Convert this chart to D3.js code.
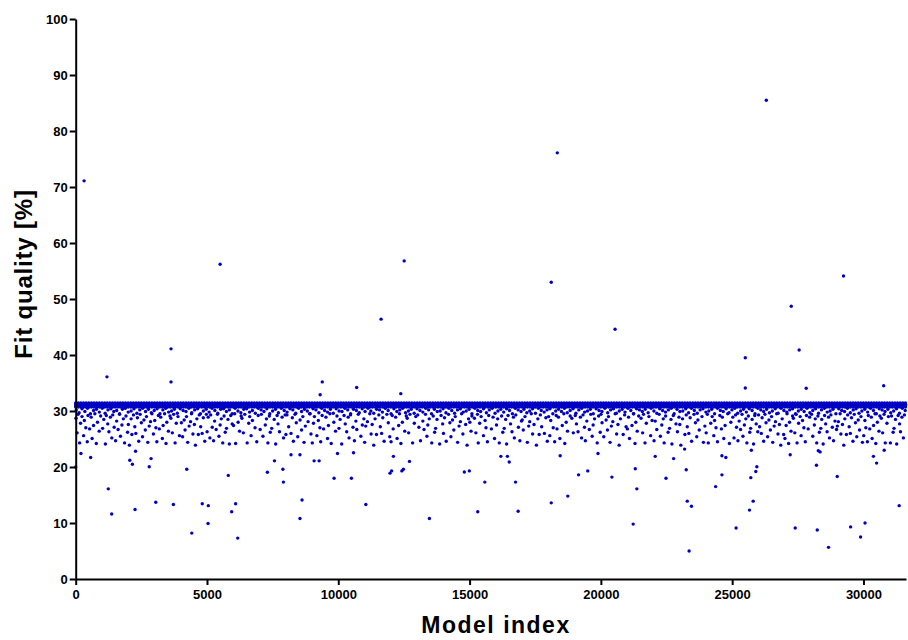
<!DOCTYPE html>
<html><head><meta charset="utf-8">
<script src="https://cdn.jsdelivr.net/npm/d3@7/dist/d3.min.js"></script>
<style>
html,body{margin:0;padding:0;background:#fff;}
svg{display:block;}
.axis text{font-family:"Liberation Sans",Arial,sans-serif;font-weight:bold;font-size:13px;fill:#000;}
.axis path,.axis line{stroke:#000;stroke-width:2;}
</style>
</head><body>
<svg id="chart" width="908" height="640"></svg>
<script>
// ---- data (Model index, Fit quality %) ----
const xTicks = [0, 5000, 10000, 15000, 20000, 25000, 30000];
const yTicks = [0, 10, 20, 30, 40, 50, 60, 70, 80, 90, 100];

// dense saturated band near 31 %
const bandIndex = [0,100,200,300,400,500,600,700,800,900,1000,1100,1200,1300,1400,1500,1600,1700,1800,1900,2000,2100,2200,2300,2400,2500,2600,2700,2800,2900,3000,3100,3200,3300,3400,3500,3600,3700,3800,3900,4000,4100,4200,4300,4400,4500,4600,4700,4800,4900,5000,5100,5200,5300,5400,5500,5600,5700,5800,5900,6000,6100,6200,6300,6400,6500,6600,6700,6800,6900,7000,7100,7200,7300,7400,7500,7600,7700,7800,7900,8000,8100,8200,8300,8400,8500,8600,8700,8800,8900,9000,9100,9200,9300,9400,9500,9600,9700,9800,9900,10000,10100,10200,10300,10400,10500,10600,10700,10800,10900,11000,11100,11200,11300,11400,11500,11600,11700,11800,11900,12000,12100,12200,12300,12400,12500,12600,12700,12800,12900,13000,13100,13200,13300,13400,13500,13600,13700,13800,13900,14000,14100,14200,14300,14400,14500,14600,14700,14800,14900,15000,15100,15200,15300,15400,15500,15600,15700,15800,15900,16000,16100,16200,16300,16400,16500,16600,16700,16800,16900,17000,17100,17200,17300,17400,17500,17600,17700,17800,17900,18000,18100,18200,18300,18400,18500,18600,18700,18800,18900,19000,19100,19200,19300,19400,19500,19600,19700,19800,19900,20000,20100,20200,20300,20400,20500,20600,20700,20800,20900,21000,21100,21200,21300,21400,21500,21600,21700,21800,21900,22000,22100,22200,22300,22400,22500,22600,22700,22800,22900,23000,23100,23200,23300,23400,23500,23600,23700,23800,23900,24000,24100,24200,24300,24400,24500,24600,24700,24800,24900,25000,25100,25200,25300,25400,25500,25600,25700,25800,25900,26000,26100,26200,26300,26400,26500,26600,26700,26800,26900,27000,27100,27200,27300,27400,27500,27600,27700,27800,27900,28000,28100,28200,28300,28400,28500,28600,28700,28800,28900,29000,29100,29200,29300,29400,29500,29600,29700,29800,29900,30000,30100,30200,30300,30400,30500,30600,30700,30800,30900,31000,31100,31200,31300,31400,31500,31600];
const bandLevels = [31.45, 31.2, 30.95, 30.7];

// fringe just under the band
const fringe = [[20,30.2],[130,29.7],[240,30.4],[350,29.9],[450,30.5],[560,29.5],[680,30.1],[790,30.3],[900,29.8],[1010,30.5],[1120,29.6],[1230,30.2],[1340,30.4],[1450,29.9],[1560,30.1],[1670,29.5],[1780,30.3],[1890,30.5],[2000,29.8],[2110,30.0],[2220,30.4],[2330,29.6],[2440,30.2],[2550,30.5],[2660,29.9],[2770,30.3],[2880,29.7],[2990,30.1],[3100,30.4],[3210,29.5],[3320,30.2],[3430,30.5],[3540,29.8],[3650,30.0],[3760,30.3],[3870,29.6],[3980,30.4],[4090,30.1],[4200,29.9],[4310,30.5],[4420,29.7],[4530,30.2],[4640,30.4],[4750,29.5],[4860,30.0],[4970,30.3],[5080,29.8],[5190,30.5],[5300,30.1],[5410,29.6],[5520,30.3],[5630,30.4],[5740,29.9],[5850,30.2],[5960,29.5],[6070,30.5],[6180,30.0],[6290,29.7],[6400,30.3],[6510,30.4],[6620,29.8],[6730,30.1],[6840,29.6],[6950,30.5],[7060,30.2],[7170,29.9],[7280,30.4],[7390,29.5],[7500,30.0],[7610,30.3],[7720,29.7],[7830,30.5],[7940,30.1],[8050,29.8],[8160,30.4],[8270,30.2],[8380,29.6],[8490,30.5],[8600,29.9],[8710,30.3],[8820,30.0],[8930,29.5],[9040,30.4],[9150,30.2],[9260,29.7],[9370,30.5],[9480,30.1],[9590,29.8],[9700,30.3],[9810,29.6],[9920,30.4],[10030,30.0],[10140,29.9],[10250,30.5],[10360,30.2],[10470,29.5],[10580,30.3],[10690,30.1],[10800,29.7],[10910,30.4],[11020,29.9],[11130,30.5],[11240,30.0],[11350,29.6],[11460,30.3],[11570,30.2],[11680,29.8],[11790,30.5],[11900,30.1],[12010,29.5],[12120,30.4],[12230,29.9],[12340,30.2],[12450,30.5],[12560,29.7],[12670,30.0],[12780,30.3],[12890,29.6],[13000,30.4],[13110,30.1],[13220,29.8],[13330,30.5],[13440,30.2],[13550,29.5],[13660,30.3],[13770,29.9],[13880,30.0],[13990,30.4],[14100,29.7],[14210,30.5],[14320,30.1],[14430,29.6],[14540,30.2],[14650,30.4],[14760,29.8],[14870,30.0],[14980,30.3],[15090,29.5],[15200,30.5],[15310,30.1],[15420,29.9],[15530,30.4],[15640,29.7],[15750,30.2],[15860,30.5],[15970,29.6],[16080,30.0],[16190,30.3],[16300,29.8],[16410,30.4],[16520,30.1],[16630,29.5],[16740,30.5],[16850,30.2],[16960,29.9],[17070,30.3],[17180,29.7],[17290,30.0],[17400,30.4],[17510,29.6],[17620,30.5],[17730,30.1],[17840,29.8],[17950,30.2],[18060,30.4],[18170,29.5],[18280,30.0],[18390,30.3],[18500,29.9],[18610,30.5],[18720,29.7],[18830,30.1],[18940,30.4],[19050,29.6],[19160,30.2],[19270,30.5],[19380,29.8],[19490,30.0],[19600,30.3],[19710,29.5],[19820,30.4],[19930,30.1],[20040,29.9],[20150,30.5],[20260,29.7],[20370,30.2],[20480,30.4],[20590,29.6],[20700,30.0],[20810,30.3],[20920,29.8],[21030,30.5],[21140,30.1],[21250,29.5],[21360,30.4],[21470,30.2],[21580,29.9],[21690,30.3],[21800,29.7],[21910,30.5],[22020,30.0],[22130,29.6],[22240,30.4],[22350,30.1],[22460,29.8],[22570,30.2],[22680,30.5],[22790,29.5],[22900,30.3],[23010,29.9],[23120,30.0],[23230,30.4],[23340,29.7],[23450,30.5],[23560,30.1],[23670,29.6],[23780,30.2],[23890,30.4],[24000,29.8],[24110,30.0],[24220,30.3],[24330,29.5],[24440,30.5],[24550,30.1],[24660,29.9],[24770,30.4],[24880,29.7],[24990,30.2],[25100,30.5],[25210,29.6],[25320,30.0],[25430,30.3],[25540,29.8],[25650,30.4],[25760,30.1],[25870,29.5],[25980,30.5],[26090,30.2],[26200,29.9],[26310,30.3],[26420,29.7],[26530,30.0],[26640,30.4],[26750,29.6],[26860,30.5],[26970,30.1],[27080,29.8],[27190,30.2],[27300,30.4],[27410,29.5],[27520,30.0],[27630,30.3],[27740,29.9],[27850,30.5],[27960,29.7],[28070,30.1],[28180,30.4],[28290,29.6],[28400,30.2],[28510,30.5],[28620,29.8],[28730,30.0],[28840,30.3],[28950,29.5],[29060,30.4],[29170,30.1],[29280,29.9],[29390,30.5],[29500,29.7],[29610,30.2],[29720,30.4],[29830,29.6],[29940,30.0],[30050,30.3],[30160,29.8],[30270,30.5],[30380,30.1],[30490,29.5],[30600,30.4],[30710,30.2],[30820,29.9],[30930,30.3],[31040,29.7],[31150,30.0],[31260,30.4],[31370,29.6],[31480,30.5],[31590,30.1]];

// main scattered body (about 24-29.5 %)
const body = [
[10,28.7],[55,26.1],[90,29.4],[150,24.3],[185,27.8],[240,29.0],[300,25.6],[330,28.3],[385,27.0],[440,24.5],[470,29.2],[530,26.8],[590,28.9],[625,25.1],[680,27.4],[730,29.5],[785,24.2],[830,28.0],[895,26.4],[950,29.1],
[1025,26.9],[1070,28.5],[1130,24.1],[1165,29.2],[1220,27.7],[1265,26.3],[1320,28.9],[1375,25.2],[1410,29.3],[1465,27.1],[1520,24.7],[1560,28.2],[1615,26.7],[1670,29.4],[1705,25.5],[1760,27.5],[1815,28.6],[1860,24.3],[1915,29.1],[1975,26.2],
[2005,27.6],[2045,23.9],[2110,28.6],[2140,25.8],[2200,29.3],[2250,27.2],[2290,26.0],[2350,28.8],[2400,24.6],[2455,29.4],[2500,27.9],[2545,25.4],[2600,28.4],[2650,26.6],[2695,29.0],[2745,24.4],[2800,27.3],[2850,28.1],[2905,29.5],[2960,25.9],
[3010,28.3],[3055,27.0],[3090,24.5],[3150,29.2],[3185,26.8],[3240,28.9],[3300,25.1],[3330,27.4],[3385,29.5],[3440,24.2],[3470,28.0],[3530,26.4],[3590,29.1],[3625,28.7],[3680,26.1],[3730,29.4],[3785,24.3],[3830,27.8],[3895,29.0],[3950,25.6],
[4025,27.9],[4070,25.4],[4130,28.4],[4165,26.6],[4220,29.0],[4265,24.4],[4320,27.3],[4375,28.1],[4410,29.5],[4465,25.9],[4520,27.6],[4560,23.9],[4615,28.6],[4670,25.8],[4705,29.3],[4760,27.2],[4815,26.0],[4860,28.8],[4915,24.6],[4975,29.4],
[5005,26.3],[5045,28.9],[5110,25.2],[5140,29.3],[5200,27.1],[5250,24.7],[5290,28.2],[5350,26.7],[5400,29.4],[5455,25.5],[5500,27.5],[5545,28.6],[5600,24.3],[5650,29.1],[5695,26.2],[5745,26.9],[5800,28.5],[5850,24.1],[5905,29.2],[5960,27.7],
[6010,27.4],[6055,29.5],[6090,24.2],[6185,28.0],[6240,26.4],[6300,29.1],[6330,28.7],[6385,26.1],[6440,29.4],[6530,24.3],[6590,27.8],[6625,29.0],[6680,25.6],[6730,28.3],[6830,27.0],[6895,24.5],[6950,29.2],
[7025,26.7],[7070,29.4],[7130,25.5],[7220,27.5],[7265,28.6],[7320,24.3],[7375,29.1],[7410,26.2],[7465,26.9],[7560,28.5],[7615,24.1],[7670,29.2],[7705,27.7],[7760,26.3],[7860,28.9],[7915,25.2],[7975,29.3],
[8005,25.8],[8045,29.3],[8110,27.2],[8200,26.0],[8250,28.8],[8290,24.6],[8350,29.4],[8400,27.9],[8455,25.4],[8545,28.4],[8600,26.6],[8650,29.0],[8695,24.4],[8745,27.3],[8850,28.1],[8905,29.5],[8960,25.9],
[9010,24.3],[9055,27.8],[9090,29.0],[9185,25.6],[9240,28.3],[9300,27.0],[9330,24.5],[9385,29.2],[9440,26.8],[9530,28.9],[9590,25.1],[9625,27.4],[9680,29.5],[9730,24.2],[9830,28.0],[9895,26.4],[9950,29.1],
[10025,26.9],[10070,28.5],[10130,24.1],[10220,29.2],[10265,27.7],[10320,26.3],[10375,28.9],[10410,25.2],[10465,29.3],[10560,27.1],[10615,24.7],[10670,28.2],[10705,26.7],[10760,29.4],[10860,25.5],[10915,27.5],[10975,28.6],
[11005,24.4],[11045,27.3],[11110,28.1],[11200,29.5],[11250,25.9],[11290,27.6],[11350,23.9],[11400,28.6],[11455,25.8],[11545,29.3],[11600,27.2],[11650,26.0],[11695,28.8],[11745,24.6],[11850,29.4],[11905,27.9],[11960,25.4],
[12010,24.5],[12055,29.2],[12090,26.8],[12185,28.9],[12240,25.1],[12300,27.4],[12330,29.5],[12385,24.2],[12440,28.0],[12530,26.4],[12590,29.1],[12625,28.7],[12680,26.1],[12730,29.4],[12830,24.3],[12895,27.8],[12950,29.0],
[13025,29.3],[13070,27.1],[13130,24.7],[13220,28.2],[13265,26.7],[13320,29.4],[13375,25.5],[13410,27.5],[13465,28.6],[13560,24.3],[13615,29.1],[13670,26.2],[13705,26.9],[13760,28.5],[13860,24.1],[13915,29.2],[13975,27.7],
[14005,26.0],[14045,28.8],[14110,24.6],[14200,29.4],[14250,27.9],[14290,25.4],[14350,28.4],[14400,26.6],[14455,29.0],[14545,24.4],[14600,27.3],[14650,28.1],[14695,29.5],[14745,25.9],[14850,27.6],[14905,23.9],[14960,28.6],
[15010,28.0],[15055,26.4],[15090,29.1],[15185,28.7],[15240,26.1],[15300,29.4],[15330,24.3],[15385,27.8],[15440,29.0],[15530,25.6],[15590,28.3],[15625,27.0],[15680,24.5],[15730,29.2],[15830,26.8],[15895,28.9],[15950,25.1],
[16025,27.5],[16070,28.6],[16130,24.3],[16220,29.1],[16265,26.2],[16320,26.9],[16375,28.5],[16410,24.1],[16465,29.2],[16560,27.7],[16615,26.3],[16670,28.9],[16705,25.2],[16760,29.3],[16860,27.1],[16915,24.7],[16975,28.2],
[17005,28.4],[17045,26.6],[17110,29.0],[17200,24.4],[17250,27.3],[17290,28.1],[17350,29.5],[17400,25.9],[17455,27.6],[17545,23.9],[17600,28.6],[17650,25.8],[17695,29.3],[17745,27.2],[17850,26.0],[17905,28.8],[17960,24.6],
[18010,29.0],[18055,25.6],[18090,28.3],[18185,27.0],[18240,24.5],[18300,29.2],[18330,26.8],[18385,28.9],[18440,25.1],[18530,27.4],[18590,29.5],[18625,24.2],[18680,28.0],[18730,26.4],[18830,29.1],[18895,28.7],[18950,26.1],
[19025,29.2],[19070,27.7],[19130,26.3],[19220,28.9],[19265,25.2],[19320,29.3],[19375,27.1],[19410,24.7],[19465,28.2],[19560,26.7],[19615,29.4],[19670,25.5],[19705,27.5],[19760,28.6],[19860,24.3],[19915,29.1],[19975,26.2],
[20005,29.4],[20045,27.9],[20110,25.4],[20200,28.4],[20250,26.6],[20290,29.0],[20350,24.4],[20400,27.3],[20455,28.1],[20545,29.5],[20600,25.9],[20650,27.6],[20695,23.9],[20745,28.6],[20850,25.8],[20905,29.3],[20960,27.2],
[21010,26.8],[21055,28.9],[21090,25.1],[21185,27.4],[21240,29.5],[21300,24.2],[21330,28.0],[21385,26.4],[21440,29.1],[21530,28.7],[21590,26.1],[21625,29.4],[21680,24.3],[21730,27.8],[21830,29.0],[21895,25.6],[21950,28.3],
[22025,24.7],[22070,28.2],[22130,26.7],[22220,29.4],[22265,25.5],[22320,27.5],[22375,28.6],[22410,24.3],[22465,29.1],[22560,26.2],[22615,26.9],[22670,28.5],[22705,24.1],[22760,29.2],[22860,27.7],[22915,26.3],[22975,28.9],
[23005,27.6],[23045,23.9],[23110,28.6],[23200,25.8],[23250,29.3],[23290,27.2],[23350,26.0],[23400,28.8],[23455,24.6],[23545,29.4],[23600,27.9],[23650,25.4],[23695,28.4],[23745,26.6],[23850,29.0],[23905,24.4],[23960,27.3],
[24010,26.1],[24055,29.4],[24090,24.3],[24185,27.8],[24240,29.0],[24300,25.6],[24330,28.3],[24385,27.0],[24440,24.5],[24530,29.2],[24590,26.8],[24625,28.9],[24680,25.1],[24730,27.4],[24830,29.5],[24895,24.2],[24950,28.0],
[25025,28.9],[25070,25.2],[25130,29.3],[25165,27.1],[25220,24.7],[25265,28.2],[25320,26.7],[25375,29.4],[25410,25.5],[25465,27.5],[25520,28.6],[25560,24.3],[25615,29.1],[25670,26.2],[25705,26.9],[25760,28.5],[25815,24.1],[25860,29.2],[25915,27.7],[25975,26.3],
[26005,29.3],[26045,27.2],[26110,26.0],[26140,28.8],[26200,24.6],[26250,29.4],[26290,27.9],[26350,25.4],[26400,28.4],[26455,26.6],[26500,29.0],[26545,24.4],[26600,27.3],[26650,28.1],[26695,29.5],[26745,25.9],[26800,27.6],[26850,23.9],[26905,28.6],[26960,25.8],
[27010,25.1],[27055,27.4],[27090,29.5],[27150,24.2],[27185,28.0],[27240,26.4],[27300,29.1],[27330,28.7],[27385,26.1],[27440,29.4],[27470,24.3],[27530,27.8],[27590,29.0],[27625,25.6],[27680,28.3],[27730,27.0],[27785,24.5],[27830,29.2],[27895,26.8],[27950,28.9],
[28025,29.4],[28070,25.5],[28130,27.5],[28165,28.6],[28220,24.3],[28265,29.1],[28320,26.2],[28375,26.9],[28410,28.5],[28465,24.1],[28520,29.2],[28560,27.7],[28615,26.3],[28670,28.9],[28705,25.2],[28760,29.3],[28815,27.1],[28860,24.7],[28915,28.2],[28975,26.7],
[29005,27.3],[29045,28.1],[29110,29.5],[29140,25.9],[29200,27.6],[29250,23.9],[29290,28.6],[29350,25.8],[29400,29.3],[29455,27.2],[29500,26.0],[29545,28.8],[29600,24.6],[29650,29.4],[29695,27.9],[29745,25.4],[29800,28.4],[29850,26.6],[29905,29.0],[29960,24.4],
[30010,25.6],[30055,28.3],[30090,27.0],[30150,24.5],[30185,29.2],[30240,26.8],[30300,28.9],[30330,25.1],[30385,27.4],[30440,29.5],[30470,24.2],[30530,28.0],[30590,26.4],[30625,29.1],[30680,28.7],[30730,26.1],[30785,29.4],[30830,24.3],[30895,27.8],[30950,29.0],
[31025,24.3],[31070,29.1],[31130,26.2],[31165,26.9],[31220,28.5],[31265,24.1],[31320,29.2],[31375,27.7],[31410,26.3],[31465,28.9],[31520,25.2],[31560,29.3]
];

// low points (below the body)
const lows = [[0,20.0],[200,22.4],[570,21.7],[1240,16.1],[1370,11.6],[2060,21.2],[2160,20.5],[2260,12.4],[2280,22.8],[2800,20.05],[2870,21.5],[3050,13.7],[3720,13.3],[4230,19.6],[4420,8.2],[4820,13.45],[5040,9.9],[5050,13.1],[5810,18.5],[5940,12.0],[6090,13.45],[6170,7.3],[7300,19.05],[7570,21.1],[7890,19.6],[7910,17.3],[8200,22.2],[8540,22.2],[8540,10.8],[8620,14.1],[9080,21.1],[9270,21.1],[9840,18.0],[9970,22.4],[10500,18.0],[10580,22.55],[11050,13.3],[11970,18.9],[12030,19.3],[12100,21.9],[12420,19.3],[12480,19.6],[12710,21.0],[13470,10.8],[14800,19.1],[14990,19.3],[15310,12.0],[15580,17.3],[16190,21.9],[16440,21.9],[16510,20.9],[16750,17.3],[16850,12.1],[18110,13.6],[18450,22.0],[18740,14.8],[19150,18.6],[19500,19.3],[19890,22.4],[20420,18.2],[21230,9.8],[21310,19.7],[21370,16.1],[22070,21.9],[22480,18.0],[22770,21.5],[23190,23.2],[23250,19.5],[23290,13.9],[23360,5.0],[23450,13.0],[24370,16.5],[24610,18.6],[24610,22.0],[24760,21.7],[25150,9.1],[25660,12.3],[25710,18.1],[25730,23.0],[25800,13.9],[25900,19.2],[25940,20.05],[27210,22.2],[27400,9.1],[28210,20.3],[28240,8.75],[28280,22.9],[28350,22.7],[28670,5.65],[29000,18.3],[29510,9.3],[29890,7.5],[30060,10.0],[30380,21.9],[30500,20.7],[30790,23.0],[31360,13.1]];

// high outliers (above the band)
const highs = [[320,71.1],[1190,36.1],[3630,41.1],[3630,35.2],[5500,56.2],[9390,35.2],[9310,32.9],[10700,34.2],[11630,46.4],[12380,33.1],[12510,56.8],[18110,53.0],[18340,76.1],[20540,44.6],[25500,39.5],[25500,34.1],[26300,85.5],[27250,48.7],[27550,40.9],[27820,34.05],[29240,54.1],[30770,34.5]];

// ---- drawing ----
const svg = d3.select("#chart");
const x = d3.scaleLinear().domain([0, 31620]).range([75.7, 906]);
const y = d3.scaleLinear().domain([0, 100]).range([579, 19]);
const R = 1.7, COL = "#0000c4";

const bandPts = [];
bandLevels.forEach(l => bandIndex.forEach(i => bandPts.push([i, l])));
const all = [].concat(lows, body, fringe, bandPts, highs);

svg.append("g").selectAll("circle").data(all).join("circle")
  .attr("cx", d => x(d[0])).attr("cy", d => y(d[1])).attr("r", R).attr("fill", COL);

svg.append("g").attr("class", "axis").attr("transform", "translate(0,579)")
  .call(d3.axisBottom(x).tickValues(xTicks).tickFormat(d3.format("d")).tickSize(6).tickSizeOuter(0).tickPadding(5));
svg.append("g").attr("class", "axis").attr("transform", "translate(75.7,0)")
  .call(d3.axisLeft(y).tickValues(yTicks).tickFormat(d3.format("d")).tickSize(6).tickSizeOuter(0).tickPadding(2));

svg.append("text").attr("x", 496).attr("y", 633).attr("text-anchor", "middle")
  .style("font-family", '"Liberation Sans",Arial,sans-serif').style("font-weight", "bold")
  .style("font-size", "23px").style("letter-spacing", "1.5px").text("Model index");
svg.append("text").attr("transform", "translate(32,274) rotate(-90)").attr("text-anchor", "middle")
  .style("font-family", '"Liberation Sans",Arial,sans-serif').style("font-weight", "bold")
  .style("font-size", "24px").style("letter-spacing", "0.8px").text("Fit quality [%]");
</script>
</body></html>
